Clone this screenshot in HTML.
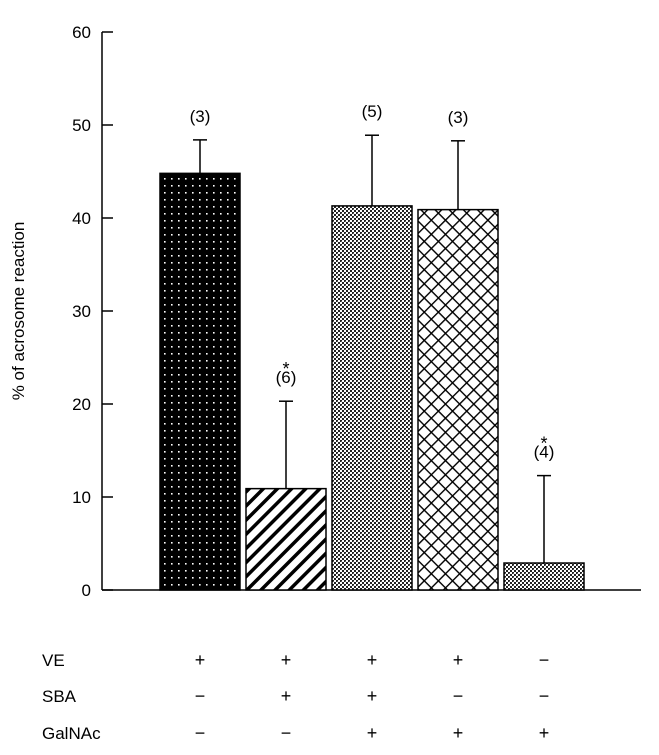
<!DOCTYPE html>
<html><head><meta charset="utf-8"><style>
body{margin:0;background:#fff}
svg{display:block;font-family:"Liberation Sans",Arial,sans-serif}
</style></head><body>
<svg id="chart" width="659" height="755" viewBox="0 0 659 755">
<defs>
<pattern id="p-dots" width="7" height="7" patternUnits="userSpaceOnUse"><rect width="7" height="7" fill="#000"/><rect x="3" y="3" width="1.6" height="1.6" fill="#fff"/></pattern>
<pattern id="p-stripe" width="10" height="10" patternUnits="userSpaceOnUse" patternTransform="rotate(45)"><rect width="10" height="10" fill="#fff"/><rect width="3.5" height="10" fill="#000"/></pattern>
<pattern id="p-check" width="4" height="4" patternUnits="userSpaceOnUse"><rect width="4" height="4" fill="#fff"/><rect width="2" height="2" fill="#222"/><rect x="2" y="2" width="2" height="2" fill="#222"/><rect x="1" y="1" width="1" height="1" fill="#666"/></pattern>
<pattern id="p-cross" width="10" height="10" patternUnits="userSpaceOnUse" patternTransform="rotate(45)"><rect width="10" height="10" fill="#fff"/><rect width="1.4" height="10" fill="#000"/><rect width="10" height="1.4" fill="#000"/></pattern>
</defs>
<g id="axes"></g>
<g id="bars"></g>
<g id="table"></g>
</svg>
<script>
const categories=["VE","VE+SBA","VE+SBA+GalNAc","VE+GalNAc","GalNAc"];
const values=[44.8,10.9,41.3,40.9,2.9];
const errors=[3.6,9.4,7.6,7.4,9.4];
const nLabels=["(3)","(6)","(5)","(3)","(4)"];
const sig=[false,true,false,false,true];
const yTicks=[0,10,20,30,40,50,60];
const rowNames=["VE","SBA","GalNAc"];
const rowSigns=[["+","+","+","+","−"],["−","+","+","−","−"],["−","−","+","+","+"]];
const fills=["url(#p-dots)","url(#p-stripe)","url(#p-check)","url(#p-cross)","url(#p-check)"];
const NS="http://www.w3.org/2000/svg";
const y0=590,yTop=32,yMax=60;
const y=v=>y0-(v/yMax)*(y0-yTop);
const barStart=160,barStep=86,barW=80;
const x=i=>barStart+i*barStep;
function mk(tag,attrs,parent,text){const e=document.createElementNS(NS,tag);for(const k in attrs)e.setAttribute(k,attrs[k]);if(text!==undefined)e.textContent=text;parent.appendChild(e);return e;}
const axes=document.getElementById('axes');
let l=mk('line',{x1:102,y1:yTop,x2:102,y2:y0,stroke:"#000","stroke-width":1.5},axes);


l=mk('line',{x1:102,y1:y0,x2:641,y2:y0,stroke:"#000","stroke-width":1.5},axes);


yTicks.forEach(t=>{
 const tk=mk('line',{x1:102,y1:y(t),x2:113,y2:y(t),stroke:"#000","stroke-width":1.5},axes);
 
 
 const tl=mk('text',{x:91,y:y(t)+6,"text-anchor":"end","font-size":17},axes,String(t));
 
 
});
const yt=mk('text',{x:0,y:0,transform:"translate(24,311) rotate(-90)","text-anchor":"middle","font-size":17},axes,"% of acrosome reaction");


const bars=document.getElementById('bars');
values.forEach((v,i)=>{
 const cx=x(i)+barW/2;
 const eb=mk('line',{x1:cx,y1:y(v),x2:cx,y2:y(v+errors[i]),stroke:"#000","stroke-width":1.5},bars);
 
 
 const cap=mk('line',{x1:cx-7,y1:y(v+errors[i]),x2:cx+7,y2:y(v+errors[i]),stroke:"#000","stroke-width":1.5},bars);
 
 
 const r=mk('rect',{x:x(i),y:y(v),width:barW,height:y0-y(v),fill:fills[i],stroke:"#000","stroke-width":1.5},bars);
 
 
 const ly=y(v+errors[i])-18;
 const nl=mk('text',{x:cx,y:ly,"text-anchor":"middle","font-size":17},bars,nLabels[i]);
 
 
 if(sig[i]){const s=mk('text',{x:cx,y:ly-8,"text-anchor":"middle","font-size":18},bars,"*");
 
 }
});
const table=document.getElementById('table');
const rowY=[666,702,739];
rowNames.forEach((n,r)=>{
 const rl=mk('text',{x:42,y:rowY[r],"font-size":17},table,n);
 
 
 rowSigns[r].forEach((s,i)=>{
  const t=mk('text',{x:x(i)+barW/2,y:rowY[r],"text-anchor":"middle","font-size":18},table,s);
  
  
 });
});
</script>
</body></html>
